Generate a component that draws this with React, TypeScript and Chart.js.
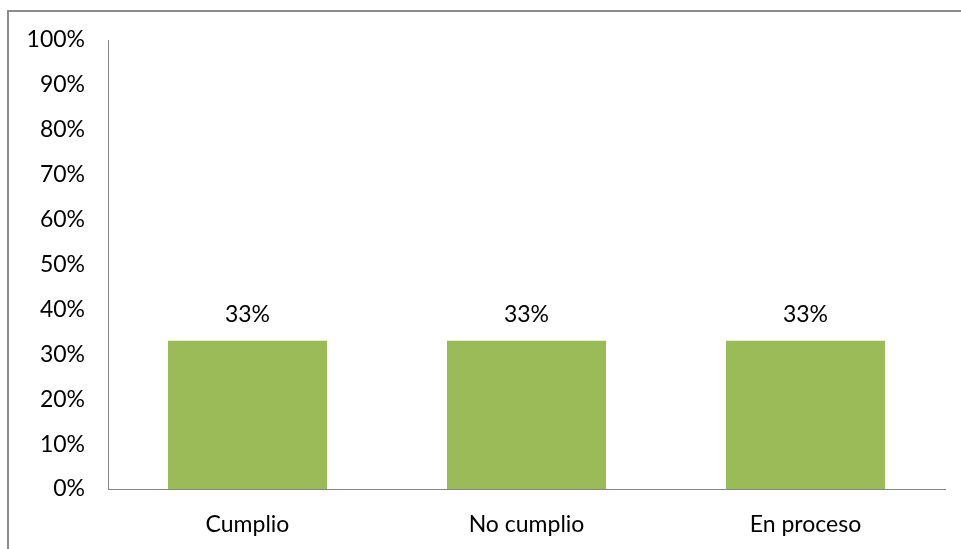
import React, { useEffect, useRef } from "react";
import { Chart, registerables } from "chart.js";

Chart.register(...registerables);

const categories = ["Cumplio", "No cumplio", "En proceso"];
const values = [0.33, 0.33, 0.33];
const valueLabels = ["33%", "33%", "33%"];
const yMax = 1;
const yStep = 0.1;

const FONT = "Lato, 'Open Sans', sans-serif";
const FS = 23;

const barLabelPlugin = {
  id: "barLabels",
  afterDatasetsDraw(chart: any) {
    const ctx = chart.ctx;
    const meta = chart.getDatasetMeta(0);
    ctx.save();
    ctx.font = `${FS}px ${FONT}`;
    ctx.fillStyle = "#000";
    ctx.textAlign = "center";
    ctx.textBaseline = "middle";
    meta.data.forEach((bar: any, i: number) => {
      ctx.fillText(valueLabels[i], bar.x, bar.y - 26);
    });
    ctx.restore();
  },
};

export default function App() {
  const ref = useRef<HTMLCanvasElement>(null);
  useEffect(() => {
    if (!ref.current) return;
    const chart = new Chart(ref.current, {
      type: "bar",
      data: {
        labels: categories,
        datasets: [
          {
            data: values,
            backgroundColor: "#9BBB59",
            borderWidth: 0,
            categoryPercentage: 1,
            barPercentage: 0.57,
          },
        ],
      },
      options: {
        animation: false,
        responsive: false,
        maintainAspectRatio: false,
        layout: { padding: { top: 40, right: 16, left: 0, bottom: 0 } },
        plugins: {
          legend: { display: false },
          tooltip: { enabled: false },
        },
        scales: {
          x: {
            grid: { display: false, drawTicks: false },
            border: { display: true, color: "#868686", width: 1 },
            ticks: { color: "#000", font: { family: FONT, size: FS }, padding: 22 },
            afterFit: (s: any) => {
              s.height = 60;
            },
          },
          y: {
            min: 0,
            max: yMax,
            grid: { display: false, drawTicks: false },
            border: { display: true, color: "#868686", width: 1 },
            ticks: {
              stepSize: yStep,
              color: "#000",
              font: { family: FONT, size: FS },
              padding: 23,
              callback: (v: any) => `${Math.round(Number(v) * 100)}%`,
            },
            afterFit: (s: any) => {
              s.width = 108;
            },
          },
        },
      },
      plugins: [barLabelPlugin],
    });
    return () => chart.destroy();
  }, []);
  return (
    <div style={{ position: "fixed", left: 0, top: 0, width: 961, height: 549, background: "#fff", overflow: "hidden" }}>
      <div
        style={{
          position: "absolute",
          left: 7,
          top: 10,
          width: 1000,
          height: 600,
          border: "2px solid #8c8c8c",
          boxSizing: "border-box",
        }}
      />
      <canvas ref={ref} width={961} height={549} style={{ position: "absolute", left: 0, top: 0 }} />
    </div>
  );
}
